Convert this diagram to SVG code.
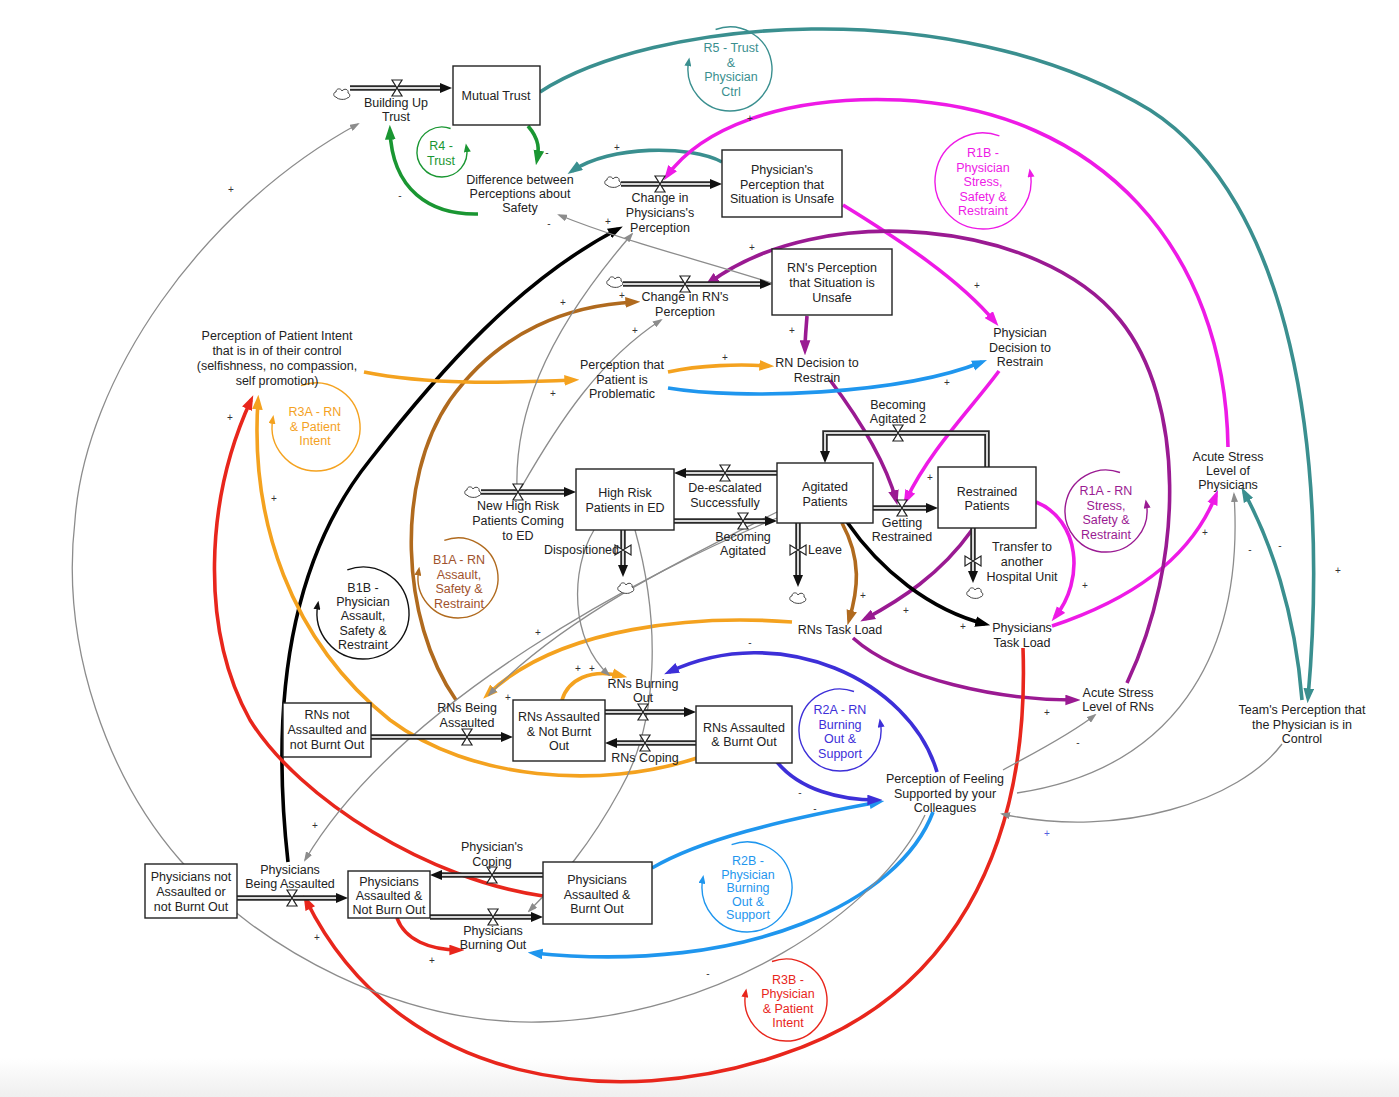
<svg xmlns="http://www.w3.org/2000/svg" width="1399" height="1097" viewBox="0 0 1399 1097">
<defs>
<style>
.t{font-family:"Liberation Sans",Arial,sans-serif;font-size:12.5px;fill:#222;text-anchor:middle}
.s{font-family:"Liberation Sans",Arial,sans-serif;font-size:10px;fill:#333;text-anchor:middle}
.box{fill:#fff;stroke:#222;stroke-width:1.4}
.po{fill:none;stroke:#2a2a2a;stroke-width:5.5}
.pi{fill:none;stroke:#d8d8d8;stroke-width:2}
.c{fill:none;stroke-width:3.6}
.g{fill:none;stroke:#8c8c8c;stroke-width:1.3;marker-end:url(#m-gray)}
.lp{fill:none;stroke-width:1.4}
.teal{stroke:#3a8f8f;marker-end:url(#m-teal)}
.green{stroke:#1a9632;marker-end:url(#m-green)}
.mag{stroke:#ee1ae6;marker-end:url(#m-mag)}
.pur{stroke:#9a1a92;marker-end:url(#m-pur)}
.blk{stroke:#000;marker-end:url(#m-blk)}
.brn{stroke:#b06a1e;marker-end:url(#m-brn)}
.org{stroke:#f4a21f;marker-end:url(#m-org)}
.red{stroke:#e8261c;marker-end:url(#m-red)}
.lb{stroke:#1f96ee;marker-end:url(#m-lb)}
.vio{stroke:#3d2fd8;marker-end:url(#m-vio)}
</style>
<linearGradient id="bot" x1="0" y1="0" x2="0" y2="1"><stop offset="0" stop-color="#ffffff"/><stop offset="1" stop-color="#efefef"/></linearGradient>
<marker id="m-teal" viewBox="0 0 14 10" refX="9" refY="5" markerUnits="userSpaceOnUse" markerWidth="15" markerHeight="11" orient="auto"><path d="M0,0L14,5L0,10z" fill="#3a8f8f"/></marker>
<marker id="m-green" viewBox="0 0 14 10" refX="9" refY="5" markerUnits="userSpaceOnUse" markerWidth="15" markerHeight="11" orient="auto"><path d="M0,0L14,5L0,10z" fill="#1a9632"/></marker>
<marker id="m-mag" viewBox="0 0 14 10" refX="9" refY="5" markerUnits="userSpaceOnUse" markerWidth="15" markerHeight="11" orient="auto"><path d="M0,0L14,5L0,10z" fill="#ee1ae6"/></marker>
<marker id="m-pur" viewBox="0 0 14 10" refX="9" refY="5" markerUnits="userSpaceOnUse" markerWidth="15" markerHeight="11" orient="auto"><path d="M0,0L14,5L0,10z" fill="#9a1a92"/></marker>
<marker id="m-blk" viewBox="0 0 14 10" refX="9" refY="5" markerUnits="userSpaceOnUse" markerWidth="15" markerHeight="11" orient="auto"><path d="M0,0L14,5L0,10z" fill="#000"/></marker>
<marker id="m-brn" viewBox="0 0 14 10" refX="9" refY="5" markerUnits="userSpaceOnUse" markerWidth="15" markerHeight="11" orient="auto"><path d="M0,0L14,5L0,10z" fill="#b06a1e"/></marker>
<marker id="m-org" viewBox="0 0 14 10" refX="9" refY="5" markerUnits="userSpaceOnUse" markerWidth="15" markerHeight="11" orient="auto"><path d="M0,0L14,5L0,10z" fill="#f4a21f"/></marker>
<marker id="m-red" viewBox="0 0 14 10" refX="9" refY="5" markerUnits="userSpaceOnUse" markerWidth="15" markerHeight="11" orient="auto"><path d="M0,0L14,5L0,10z" fill="#e8261c"/></marker>
<marker id="m-lb" viewBox="0 0 14 10" refX="9" refY="5" markerUnits="userSpaceOnUse" markerWidth="15" markerHeight="11" orient="auto"><path d="M0,0L14,5L0,10z" fill="#1f96ee"/></marker>
<marker id="m-vio" viewBox="0 0 14 10" refX="9" refY="5" markerUnits="userSpaceOnUse" markerWidth="15" markerHeight="11" orient="auto"><path d="M0,0L14,5L0,10z" fill="#3d2fd8"/></marker>
<marker id="m-gray" viewBox="0 0 10 7" refX="8" refY="3.5" markerUnits="userSpaceOnUse" markerWidth="10" markerHeight="7" orient="auto"><path d="M0,0L10,3.5L0,7z" fill="#8c8c8c"/></marker>
<marker id="ph" viewBox="0 0 12 10" refX="0" refY="5" markerUnits="userSpaceOnUse" markerWidth="12" markerHeight="10" orient="auto"><path d="M0,0L12,5L0,10z" fill="#111"/></marker>
<marker id="l-teal" viewBox="0 0 10 8" refX="5" refY="4" markerUnits="userSpaceOnUse" markerWidth="9" markerHeight="7" orient="auto"><path d="M0,0L10,4L0,8z" fill="#3a8f8f"/></marker>
<marker id="l-green" viewBox="0 0 10 8" refX="5" refY="4" markerUnits="userSpaceOnUse" markerWidth="9" markerHeight="7" orient="auto"><path d="M0,0L10,4L0,8z" fill="#1a9632"/></marker>
<marker id="l-mag" viewBox="0 0 10 8" refX="5" refY="4" markerUnits="userSpaceOnUse" markerWidth="9" markerHeight="7" orient="auto"><path d="M0,0L10,4L0,8z" fill="#ee1ae6"/></marker>
<marker id="l-org" viewBox="0 0 10 8" refX="5" refY="4" markerUnits="userSpaceOnUse" markerWidth="9" markerHeight="7" orient="auto"><path d="M0,0L10,4L0,8z" fill="#f4a21f"/></marker>
<marker id="l-blk" viewBox="0 0 10 8" refX="5" refY="4" markerUnits="userSpaceOnUse" markerWidth="9" markerHeight="7" orient="auto"><path d="M0,0L10,4L0,8z" fill="#111"/></marker>
<marker id="l-brn" viewBox="0 0 10 8" refX="5" refY="4" markerUnits="userSpaceOnUse" markerWidth="9" markerHeight="7" orient="auto"><path d="M0,0L10,4L0,8z" fill="#b06a1e"/></marker>
<marker id="l-pur" viewBox="0 0 10 8" refX="5" refY="4" markerUnits="userSpaceOnUse" markerWidth="9" markerHeight="7" orient="auto"><path d="M0,0L10,4L0,8z" fill="#9a1a92"/></marker>
<marker id="l-vio" viewBox="0 0 10 8" refX="5" refY="4" markerUnits="userSpaceOnUse" markerWidth="9" markerHeight="7" orient="auto"><path d="M0,0L10,4L0,8z" fill="#3d2fd8"/></marker>
<marker id="l-lb" viewBox="0 0 10 8" refX="5" refY="4" markerUnits="userSpaceOnUse" markerWidth="9" markerHeight="7" orient="auto"><path d="M0,0L10,4L0,8z" fill="#1f96ee"/></marker>
<marker id="l-red" viewBox="0 0 10 8" refX="5" refY="4" markerUnits="userSpaceOnUse" markerWidth="9" markerHeight="7" orient="auto"><path d="M0,0L10,4L0,8z" fill="#e8261c"/></marker>
<path id="vh" d="M-5,-8H5L-5,8H5Z" fill="#fff" stroke="#222" stroke-width="1.2"/>
<path id="vv" d="M-8,-5V5L8,-5V5Z" fill="#fff" stroke="#222" stroke-width="1.2"/>
<path id="cloud" d="M-6,3C-9,3 -9,-2 -6,-2C-6,-6 -1,-6 0,-3C2,-6 7,-5 6,-1C9,0 8,4 5,4C4,6 -4,6 -6,3Z" fill="#fff" stroke="#444" stroke-width="1"/>
</defs>
<rect width="1399" height="1097" fill="#fff"/>
<rect x="0" y="1058" width="1399" height="39" fill="url(#bot)"/>

<g id="connectors">
<path class="c teal" d="M540,92 C650,20 950,-10 1150,110 C1290,200 1330,450 1308,698"/>
<path class="c teal" d="M1302,700 C1295,610 1270,540 1244,492"/>
<path class="c teal" d="M722,162 C690,145 610,145 572,171"/>
<path class="c green" d="M528,126 C540,140 539,150 537,160"/>
<path class="c green" d="M478,214 C430,215 392,190 390,130"/>
<path class="c mag" d="M1228,447 C1225,250 1100,110 900,100 C780,95 700,130 667,176"/>
<path class="c mag" d="M843,205 C900,240 960,280 995,322"/>
<path class="c mag" d="M999,371 C970,410 930,450 906,500"/>
<path class="c mag" d="M1036,502 C1080,520 1085,580 1055,617"/>
<path class="c mag" d="M1052,626 C1130,600 1190,560 1216,495"/>
<path class="c pur" d="M1127,683 C1185,560 1185,400 1120,320 C1040,220 820,200 709,283"/>
<path class="c pur" d="M807,316 C806,330 805,338 805,350"/>
<path class="c pur" d="M830,380 C860,420 885,460 896,500"/>
<path class="c pur" d="M972,530 C940,575 900,600 865,619"/>
<path class="c pur" d="M853,638 C900,680 1000,700 1075,700"/>
<path class="c blk" d="M288,862 C270,700 290,560 370,460 C440,370 520,280 618,229"/>
<path class="c blk" d="M847,522 C880,570 930,610 985,624"/>
<path class="c brn" d="M456,700 C400,620 395,480 450,400 C500,330 570,305 635,302"/>
<path class="c brn" d="M842,523 C862,560 858,590 849,620"/>
<path class="c org" d="M364,372 C430,385 500,383 574,380"/>
<path class="c org" d="M668,372 C700,365 740,364 769,366"/>
<path class="c org" d="M792,622 C700,615 560,625 487,695"/>
<path class="c org" d="M697,758 C600,790 470,780 390,720 C290,640 250,520 258,400"/>
<path class="c org" d="M562,700 C568,680 590,668 622,676"/>
<path class="c red" d="M1023,648 C1030,850 950,1000 780,1055 C620,1110 400,1090 306,900"/>
<path class="c red" d="M543,896 C430,880 300,800 250,720 C200,630 205,500 251,400"/>
<path class="c red" d="M397,918 C405,940 430,950 459,950"/>
<path class="c lb" d="M668,388 C740,400 900,395 982,362"/>
<path class="c lb" d="M652,868 C700,840 780,820 879,802"/>
<path class="c lb" d="M933,812 C900,900 750,975 533,953"/>
<path class="c vio" d="M937,772 C910,680 780,620 669,672"/>
<path class="c vio" d="M777,762 C800,790 840,800 877,800"/>
<path class="g" d="M925,815 C880,910 720,1018 540,1022 C400,1025 260,950 180,860 C110,780 60,650 75,520 C85,380 200,210 358,124"/>
<path class="g" d="M1003,770 C1030,755 1070,735 1095,715"/>
<path class="g" d="M1017,793 C1170,770 1245,660 1234,494"/>
<path class="g" d="M1282,744 C1240,800 1120,840 1002,814"/>
<path class="g" d="M772,283 C700,260 620,240 559,215"/>
<path class="g" d="M517,488 C515,420 540,340 632,234"/>
<path class="g" d="M521,488 C560,420 600,360 661,320"/>
<path class="g" d="M594,530 C570,570 570,640 609,675"/>
<path class="g" d="M635,530 C660,620 660,720 620,790 C590,845 560,880 529,911"/>
<path class="g" d="M777,512 C680,560 560,620 489,695"/>
<path class="g" d="M777,518 C650,570 400,700 305,860"/>
</g>

<g id="polarities">
<text class="s" x="231" y="193">+</text><text class="s" x="400" y="199">-</text><text class="s" x="547" y="156">-</text>
<text class="s" x="617" y="151">+</text><text class="s" x="750" y="122">+</text><text class="s" x="608" y="225">+</text>
<text class="s" x="549" y="227">-</text><text class="s" x="752" y="251">+</text><text class="s" x="563" y="306">+</text>
<text class="s" x="622" y="299">+</text><text class="s" x="635" y="334">+</text><text class="s" x="725" y="361">+</text>
<text class="s" x="792" y="334">+</text><text class="s" x="977" y="289">+</text><text class="s" x="947" y="386">+</text>
<text class="s" x="553" y="397">+</text><text class="s" x="274" y="502">+</text><text class="s" x="230" y="421">+</text>
<text class="s" x="930" y="481">+</text><text class="s" x="863" y="599">+</text><text class="s" x="906" y="614">+</text>
<text class="s" x="963" y="630">+</text><text class="s" x="1085" y="589">+</text><text class="s" x="1205" y="536">+</text>
<text class="s" x="1250" y="553">-</text><text class="s" x="1280" y="549">-</text><text class="s" x="1338" y="574">+</text>
<text class="s" x="1047" y="716">+</text><text class="s" x="1078" y="746">-</text><text class="s" x="1047" y="837" style="fill:#5560e0">+</text>
<text class="s" x="800" y="796">-</text><text class="s" x="815" y="812">-</text><text class="s" x="750" y="646">-</text>
<text class="s" x="538" y="636">+</text><text class="s" x="578" y="672">+</text><text class="s" x="592" y="672">+</text>
<text class="s" x="315" y="829">+</text><text class="s" x="317" y="941">+</text><text class="s" x="432" y="964">+</text>
<text class="s" x="708" y="977">-</text><text class="s" x="508" y="701">+</text>
</g>

<g id="loops">
<g id="loop-r5"><path class="lp" stroke="#3a8f8f" marker-end="url(#l-teal)" d="M715.6,29.5 A42,42 0 1 1 688.6,61.7"/>
<text class="t" style="fill:#3a8f8f" x="731" y="52">R5 - Trust<tspan x="731" dy="14.5">&amp;</tspan><tspan x="731" dy="14.5">Physician</tspan><tspan x="731" dy="14.5">Ctrl</tspan></text></g>
<g id="loop-r4"><path class="lp" stroke="#1a9632" marker-end="url(#l-green)" d="M450.6,128.5 A25,25 0 1 0 466.6,147.7"/>
<text class="t" style="fill:#1a9632" x="441" y="150">R4 -<tspan x="441" dy="14.5">Trust</tspan></text></g>
<g id="loop-r1b"><path class="lp" stroke="#ee1ae6" marker-end="url(#l-mag)" d="M999.4,135.9 A48,48 0 1 0 1030.3,172.7"/>
<text class="t" style="fill:#ee1ae6" x="983" y="157">R1B -<tspan x="983" dy="14.5">Physician</tspan><tspan x="983" dy="14.5">Stress,</tspan><tspan x="983" dy="14.5">Safety &amp;</tspan><tspan x="983" dy="14.5">Restraint</tspan></text></g>
<g id="loop-r3a"><path class="lp" stroke="#f4a21f" marker-end="url(#l-org)" d="M301,385.6 A44,44 0 1 1 272.7,419.4"/>
<text class="t" style="fill:#f4a21f" x="315" y="416">R3A - RN<tspan x="315" dy="14.5">&amp; Patient</tspan><tspan x="315" dy="14.5">Intent</tspan></text></g>
<g id="loop-b1b"><path class="lp" stroke="#111" marker-end="url(#l-blk)" d="M347.3,569.8 A46,46 0 1 1 317.7,605"/>
<text class="t" x="363" y="592">B1B -<tspan x="363" dy="14.2">Physician</tspan><tspan x="363" dy="14.2">Assault,</tspan><tspan x="363" dy="14.2">Safety &amp;</tspan><tspan x="363" dy="14.2">Restraint</tspan></text></g>
<g id="loop-b1a"><path class="lp" stroke="#b06a1e" marker-end="url(#l-brn)" d="M444.3,540.4 A40,40 0 1 1 418.6,571.1"/>
<text class="t" style="fill:#a0522d" x="459" y="564">B1A - RN<tspan x="459" dy="14.5">Assault,</tspan><tspan x="459" dy="14.5">Safety &amp;</tspan><tspan x="459" dy="14.5">Restraint</tspan></text></g>
<g id="loop-r1a"><path class="lp" stroke="#9a1a92" marker-end="url(#l-pur)" d="M1120,472.5 A41,41 0 1 0 1146.4,503.9"/>
<text class="t" style="fill:#9a1a92" x="1106" y="495">R1A - RN<tspan x="1106" dy="14.5">Stress,</tspan><tspan x="1106" dy="14.5">Safety &amp;</tspan><tspan x="1106" dy="14.5">Restraint</tspan></text></g>
<g id="loop-r2a"><path class="lp" stroke="#3d2fd8" marker-end="url(#l-vio)" d="M854,691.5 A41,41 0 1 0 880.4,722.9"/>
<text class="t" style="fill:#3d2fd8" x="840" y="714">R2A - RN<tspan x="840" dy="14.5">Burning</tspan><tspan x="840" dy="14.5">Out &amp;</tspan><tspan x="840" dy="14.5">Support</tspan></text></g>
<g id="loop-r2b"><path class="lp" stroke="#1f96ee" marker-end="url(#l-lb)" d="M731.6,844.7 A45,45 0 1 1 702.7,879.2"/>
<text class="t" style="fill:#1f96ee" x="748" y="865">R2B -<tspan x="748" dy="13.5">Physician</tspan><tspan x="748" dy="13.5">Burning</tspan><tspan x="748" dy="13.5">Out &amp;</tspan><tspan x="748" dy="13.5">Support</tspan></text></g>
<g id="loop-r3b"><path class="lp" stroke="#e8261c" marker-end="url(#l-red)" d="M772,961.5 A41,41 0 1 1 745.6,992.9"/>
<text class="t" style="fill:#e8261c" x="788" y="984">R3B -<tspan x="788" dy="14.3">Physician</tspan><tspan x="788" dy="14.3">&amp; Patient</tspan><tspan x="788" dy="14.3">Intent</tspan></text></g>
</g>

<g id="flow-building-up-trust"><use href="#cloud" x="342" y="94"/><path class="po" marker-end="url(#ph)" d="M350,88H440"/><path class="pi" d="M350,88H440"/><use href="#vh" x="397" y="88"/>
<text class="t" x="396" y="107">Building Up<tspan x="396" dy="14">Trust</tspan></text></g>
<g id="flow-change-phys"><use href="#cloud" x="613" y="182"/><path class="po" marker-end="url(#ph)" d="M621,184H710"/><path class="pi" d="M621,184H710"/><use href="#vh" x="660" y="184"/>
<text class="t" x="660" y="202">Change in<tspan x="660" dy="15">Physicians's</tspan><tspan x="660" dy="15">Perception</tspan></text></g>
<g id="flow-change-rn"><use href="#cloud" x="615" y="282"/><path class="po" marker-end="url(#ph)" d="M623,284H760"/><path class="pi" d="M623,284H760"/><use href="#vh" x="685" y="284"/>
<text class="t" x="685" y="301">Change in RN's<tspan x="685" dy="15">Perception</tspan></text></g>
<g id="flow-new-high-risk"><use href="#cloud" x="473" y="492"/><path class="po" marker-end="url(#ph)" d="M481,492H564"/><path class="pi" d="M481,492H564"/><use href="#vh" x="518" y="492"/>
<text class="t" x="518" y="510">New High Risk<tspan x="518" dy="15">Patients Coming</tspan><tspan x="518" dy="15">to ED</tspan></text></g>
<g id="flow-deescalated"><path class="po" marker-end="url(#ph)" d="M777,473H686"/><path class="pi" d="M777,473H686"/><use href="#vh" x="725" y="473"/>
<text class="t" x="725" y="492">De-escalated<tspan x="725" dy="15">Successfully</tspan></text></g>
<g id="flow-becoming-agitated"><path class="po" marker-end="url(#ph)" d="M674,521H765"/><path class="pi" d="M674,521H765"/><use href="#vh" x="743" y="521"/>
<text class="t" x="743" y="541">Becoming<tspan x="743" dy="14">Agitated</tspan></text></g>
<g id="flow-dispositioned"><path class="po" marker-end="url(#ph)" d="M623,530V565"/><path class="pi" d="M623,530V565"/><use href="#vv" x="623" y="550"/><use href="#cloud" x="626" y="588"/>
<text class="t" style="text-anchor:end" x="619" y="554">Dispositioned</text></g>
<g id="flow-leave"><path class="po" marker-end="url(#ph)" d="M798,523V575"/><path class="pi" d="M798,523V575"/><use href="#vv" x="798" y="550"/><use href="#cloud" x="798" y="598"/>
<text class="t" style="text-anchor:start" x="808" y="554">Leave</text></g>
<g id="flow-transfer"><path class="po" marker-end="url(#ph)" d="M973,528V571"/><path class="pi" d="M973,528V571"/><use href="#vv" x="973" y="561"/><use href="#cloud" x="975" y="593"/>
<text class="t" x="1022" y="551">Transfer to<tspan x="1022" dy="15">another</tspan><tspan x="1022" dy="15">Hospital Unit</tspan></text></g>
<g id="flow-becoming-agitated-2"><path class="po" marker-end="url(#ph)" d="M987,467V433H825V451"/><path class="pi" d="M987,467V433H825V451"/><use href="#vh" x="898" y="433"/>
<text class="t" x="898" y="409">Becoming<tspan x="898" dy="14">Agitated 2</tspan></text></g>
<g id="flow-getting-restrained"><path class="po" marker-end="url(#ph)" d="M873,508H926"/><path class="pi" d="M873,508H926"/><use href="#vh" x="902" y="508"/>
<text class="t" x="902" y="527">Getting<tspan x="902" dy="14">Restrained</tspan></text></g>
<g id="flow-rns-being-assaulted"><path class="po" marker-end="url(#ph)" d="M371,737H501"/><path class="pi" d="M371,737H501"/><use href="#vh" x="467" y="737"/>
<text class="t" x="467" y="712">RNs Being<tspan x="467" dy="15">Assaulted</tspan></text></g>
<g id="flow-rns-burning-out"><path class="po" marker-end="url(#ph)" d="M605,712H684"/><path class="pi" d="M605,712H684"/><use href="#vh" x="643" y="712"/>
<text class="t" x="643" y="688">RNs Burning<tspan x="643" dy="14">Out</tspan></text></g>
<g id="flow-rns-coping"><path class="po" marker-end="url(#ph)" d="M696,743H617"/><path class="pi" d="M696,743H617"/><use href="#vh" x="645" y="743"/>
<text class="t" x="645" y="762">RNs Coping</text></g>
<g id="flow-physicians-being-assaulted"><path class="po" marker-end="url(#ph)" d="M237,898H336"/><path class="pi" d="M237,898H336"/><use href="#vh" x="292" y="898"/>
<text class="t" x="290" y="874">Physicians<tspan x="290" dy="14">Being Assaulted</tspan></text></g>
<g id="flow-physicians-coping"><path class="po" marker-end="url(#ph)" d="M543,875H442"/><path class="pi" d="M543,875H442"/><use href="#vh" x="492" y="875"/>
<text class="t" x="492" y="851">Physician's<tspan x="492" dy="15">Coping</tspan></text></g>
<g id="flow-physicians-burning-out"><path class="po" marker-end="url(#ph)" d="M430,917H531"/><path class="pi" d="M430,917H531"/><use href="#vh" x="493" y="917"/>
<text class="t" x="493" y="935">Physicians<tspan x="493" dy="14">Burning Out</tspan></text></g>

<g id="stock-mutual-trust"><rect class="box" x="453" y="66" width="87" height="59"/><text class="t" x="496" y="100">Mutual Trust</text></g>
<g id="stock-physician-perception"><rect class="box" x="722" y="150" width="120" height="67"/><text class="t" x="782" y="174">Physician's<tspan x="782" dy="14.5">Perception that</tspan><tspan x="782" dy="14.5">Situation is Unsafe</tspan></text></g>
<g id="stock-rn-perception"><rect class="box" x="772" y="249" width="120" height="66"/><text class="t" x="832" y="272">RN's Perception<tspan x="832" dy="15">that Situation is</tspan><tspan x="832" dy="15">Unsafe</tspan></text></g>
<g id="stock-high-risk"><rect class="box" x="576" y="469" width="98" height="61"/><text class="t" x="625" y="497">High Risk<tspan x="625" dy="15">Patients in ED</tspan></text></g>
<g id="stock-agitated"><rect class="box" x="777" y="463" width="96" height="60"/><text class="t" x="825" y="491">Agitated<tspan x="825" dy="15">Patients</tspan></text></g>
<g id="stock-restrained"><rect class="box" x="938" y="467" width="98" height="61"/><text class="t" x="987" y="496">Restrained<tspan x="987" dy="14">Patients</tspan></text></g>
<g id="stock-rns-not-assaulted"><rect class="box" x="283" y="703" width="88" height="54"/><text class="t" x="327" y="719">RNs not<tspan x="327" dy="15">Assaulted and</tspan><tspan x="327" dy="15">not Burnt Out</tspan></text></g>
<g id="stock-rns-assaulted-not-burnt"><rect class="box" x="513" y="700" width="92" height="61"/><text class="t" x="559" y="721">RNs Assaulted<tspan x="559" dy="15">&amp; Not Burnt</tspan><tspan x="559" dy="14">Out</tspan></text></g>
<g id="stock-rns-assaulted-burnt"><rect class="box" x="696" y="706" width="96" height="57"/><text class="t" x="744" y="732">RNs Assaulted<tspan x="744" dy="14">&amp; Burnt Out</tspan></text></g>
<g id="stock-physicians-not-assaulted"><rect class="box" x="145" y="864" width="92" height="54"/><text class="t" x="191" y="881">Physicians not<tspan x="191" dy="15">Assaulted or</tspan><tspan x="191" dy="15">not Burnt Out</tspan></text></g>
<g id="stock-physicians-assaulted-not-burnt"><rect class="box" x="348" y="871" width="82" height="47"/><text class="t" x="389" y="886">Physicians<tspan x="389" dy="14">Assaulted &amp;</tspan><tspan x="389" dy="14">Not Burn Out</tspan></text></g>
<g id="stock-physicians-assaulted-burnt"><rect class="box" x="543" y="862" width="109" height="62"/><text class="t" x="597" y="884">Physicians<tspan x="597" dy="14.5">Assaulted &amp;</tspan><tspan x="597" dy="14.5">Burnt Out</tspan></text></g>

<g id="aux-difference"><text class="t" x="520" y="184">Difference between<tspan x="520" dy="14">Perceptions about</tspan><tspan x="520" dy="14">Safety</tspan></text></g>
<g id="aux-patient-intent"><text class="t" x="277" y="340">Perception of Patient Intent<tspan x="277" dy="15">that is in of their control</tspan><tspan x="277" dy="15">(selfishness, no compassion,</tspan><tspan x="277" dy="15">self promotion)</tspan></text></g>
<g id="aux-problematic"><text class="t" x="622" y="369">Perception that<tspan x="622" dy="14.5">Patient is</tspan><tspan x="622" dy="14.5">Problematic</tspan></text></g>
<g id="aux-rn-decision"><text class="t" x="817" y="367">RN Decision to<tspan x="817" dy="15">Restrain</tspan></text></g>
<g id="aux-physician-decision"><text class="t" x="1020" y="337">Physician<tspan x="1020" dy="14.5">Decision to</tspan><tspan x="1020" dy="14.5">Restrain</tspan></text></g>
<g id="aux-stress-physicians"><text class="t" x="1228" y="461">Acute Stress<tspan x="1228" dy="14">Level of</tspan><tspan x="1228" dy="14">Physicians</tspan></text></g>
<g id="aux-rns-task-load"><text class="t" x="840" y="634">RNs Task Load</text></g>
<g id="aux-physicians-task-load"><text class="t" x="1022" y="632">Physicians<tspan x="1022" dy="15">Task Load</tspan></text></g>
<g id="aux-stress-rns"><text class="t" x="1118" y="697">Acute Stress<tspan x="1118" dy="14">Level of RNs</tspan></text></g>
<g id="aux-team-perception"><text class="t" x="1302" y="714">Team's Perception that<tspan x="1302" dy="14.5">the Physician is in</tspan><tspan x="1302" dy="14.5">Control</tspan></text></g>
<g id="aux-feeling-supported"><text class="t" x="945" y="783">Perception of Feeling<tspan x="945" dy="14.5">Supported by your</tspan><tspan x="945" dy="14.5">Colleagues</tspan></text></g>
</svg>
